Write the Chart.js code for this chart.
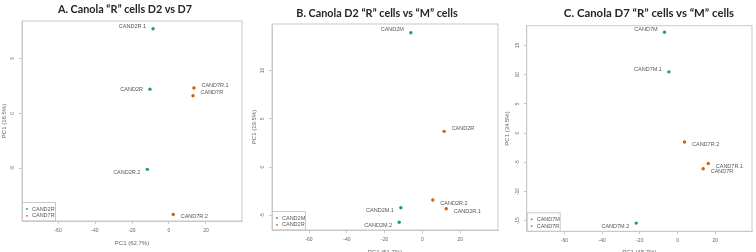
<!DOCTYPE html>
<html>
<head>
<meta charset="utf-8">
<script src="https://cdn.jsdelivr.net/npm/chart.js@4.4.1/dist/chart.umd.min.js"></script>
<style>
  body { margin: 0; background: #fff; }
  #wrap { position: relative; width: 756px; height: 252px; overflow: hidden; background: #fff; }
  .panel { position: absolute; top: 0; width: 252px; height: 252px; }
  .panel canvas { position: absolute; left: 0; top: 0; }
  .ttl {
    position: absolute; white-space: nowrap; transform: translate(-50%, -50%);
    font-family: Lato, "Noto Sans", sans-serif; font-weight: 700; font-size: 10.8px; color: #262626;
  }
</style>
</head>
<body>
<div id="wrap">
  <div class="panel" style="left:0px"><canvas id="chartA" width="252" height="252"></canvas></div>
  <div class="panel" style="left:252px"><canvas id="chartB" width="252" height="252"></canvas></div>
  <div class="panel" style="left:504px"><canvas id="chartC" width="252" height="252"></canvas></div>
  <div class="ttl" style="left:125px;top:8px">A. Canola “R” cells D2 vs D7</div>
  <div class="ttl" style="left:377px;top:12px">B. Canola D2 “R” cells vs “M” cells</div>
  <div class="ttl" style="left:649px;top:12px;font-size:11.4px">C. Canola D7 “R” cells vs “M” cells</div>
</div>
<script>
// shared
const xTicks = [-60, -40, -20, 0, 20];
const colors = ["#1b9e77", "#d95f02"];

// A. D2 vs D7
const aGroups = ["CAND2R", "CAND7R"];
const aNames2R = ["CAND2R.1", "CAND2R", "CAND2R.2"];
const aX2R = [-8.6, -10.3, -11.7];
const aY2R = [7.7, 2.2, -5.1];
const aNames7R = ["CAND7R.1", "CAND7R", "CAND7R.2"];
const aX7R = [13.5, 13.0, 2.3];
const aY7R = [2.3, 1.6, -9.2];
const aYTicks = [-5, 0, 5];

// B. D2 R vs M
const bGroups = ["CAND2M", "CAND2R"];
const bNames2M = ["CAND2M", "CAND2M.1", "CAND2M.2"];
const bX2M = [-6.1, -11.4, -12.3];
const bY2M = [13.9, -4.2, -5.7];
const bNames2R = ["CAND2R", "CAND2R.1", "CAND2R.2"];
const bX2R = [11.5, 12.6, 5.5];
const bY2R = [3.7, -4.3, -3.4];
const bYTicks = [-5, 0, 5, 10];

// C. D7 R vs M
const cGroups = ["CAND7M", "CAND7R"];
const cNames7M = ["CAND7M", "CAND7M.1", "CAND7M.2"];
const cX7M = [-6.9, -4.6, -21.9];
const cY7M = [17.3, 10.5, -15.4];
const cNames7R = ["CAND7R", "CAND7R.1", "CAND7R.2"];
const cX7R = [13.6, 16.3, 3.7];
const cY7R = [-6.1, -5.2, -1.5];
const cYTicks = [-15, -10, -5, 0, 5, 10, 15];

// label placement: side and vertical nudge (px)
const labelPlace = {
  "A:CAND2R.1": ["l", -2], "A:CAND2R": ["l", 0], "A:CAND2R.2": ["l", 3],
  "A:CAND7R.1": ["r", -3], "A:CAND7R": ["r", -3], "A:CAND7R.2": ["r", 2.5],
  "B:CAND2M": ["l", -3], "B:CAND2M.1": ["l", 3], "B:CAND2M.2": ["l", 3],
  "B:CAND2R": ["r", -3], "B:CAND2R.1": ["r", 3], "B:CAND2R.2": ["r", 3],
  "C:CAND7M": ["l", -3], "C:CAND7M.1": ["l", -2], "C:CAND7M.2": ["l", 3],
  "C:CAND7R": ["r", 3], "C:CAND7R.1": ["r", 3], "C:CAND7R.2": ["r", 3],
};

Chart.defaults.font.family = "'Liberation Sans', Arial, sans-serif";
Chart.defaults.color = "#666";

const frameColor = "#c9c9c9";

const rPlotPlugin = {
  id: "rPlot",
  afterDraw(chart) {
    const { ctx, chartArea: a, scales } = chart;
    const key = chart.options.plugins.rPlot.key;
    ctx.save();
    // plot box
    ctx.strokeStyle = frameColor;
    ctx.lineWidth = 1;
    ctx.strokeRect(a.left, a.top, a.right - a.left, a.bottom - a.top);

    // rotated y tick labels, R style
    ctx.fillStyle = "#666";
    ctx.font = "5px 'Liberation Sans', Arial, sans-serif";
    ctx.textAlign = "center";
    ctx.textBaseline = "middle";
    scales.y.ticks.forEach(t => {
      const py = scales.y.getPixelForValue(t.value);
      ctx.save();
      ctx.translate(a.left - 9, py);
      ctx.rotate(-Math.PI / 2);
      ctx.fillText(String(t.value), 0, 0);
      ctx.restore();
    });

    // point labels
    ctx.fillStyle = "#555";
    ctx.font = "5.5px 'Liberation Sans', Arial, sans-serif";
    chart.data.datasets.forEach((ds, di) => {
      const meta = chart.getDatasetMeta(di);
      meta.data.forEach((pt, i) => {
        const name = ds.data[i].name;
        const [side, dy] = labelPlace[key + ":" + name] || ["r", 0];
        ctx.textAlign = side === "l" ? "right" : "left";
        ctx.fillText(name, pt.x + (side === "l" ? -7 : 7.5), pt.y + dy);
      });
    });

    // legend box, bottom left inside
    const bw = 33, bh = 18.5;
    const bx = a.left + 0.5, by = a.bottom - bh;
    ctx.strokeStyle = frameColor;
    ctx.strokeRect(bx, by, bw, bh);
    ctx.textAlign = "left";
    ctx.font = "5.5px 'Liberation Sans', Arial, sans-serif";
    chart.data.datasets.forEach((ds, di) => {
      const ly = by + 6.5 + di * 6.8;
      ctx.fillStyle = ds.backgroundColor;
      ctx.beginPath();
      ctx.arc(bx + 4.5, ly, 0.9, 0, Math.PI * 2);
      ctx.fill();
      ctx.fillStyle = "#555";
      ctx.fillText(ds.label, bx + 9.5, ly);
    });
    ctx.restore();
  }
};

function makePanel(canvasId, key, groups, names, xs, ys, yTicks, area, xRange, yRange, xTitle, yTitle, xTitlePad, yTitlePad) {
  const datasets = groups.map((g, gi) => ({
    label: g,
    data: xs[gi].map((x, i) => ({ x, y: ys[gi][i], name: names[gi][i] })),
    backgroundColor: colors[gi],
    borderColor: colors[gi],
    pointRadius: 1.7,
    pointHoverRadius: 1.7,
    borderWidth: 0,
  }));
  new Chart(document.getElementById(canvasId), {
    type: "scatter",
    data: { datasets },
    options: {
      responsive: false,
      animation: false,
      events: [],
      layout: { padding: { top: area.t, right: 252 - area.r, left: 0, bottom: 0 } },
      plugins: { legend: { display: false }, tooltip: { enabled: false }, rPlot: { key } },
      scales: {
        x: {
          type: "linear",
          min: xRange[0], max: xRange[1],
          afterBuildTicks(s) { s.ticks = xTicks.map(v => ({ value: v })); },
          afterFit(s) { s.height = 252 - area.b; },
          grid: { drawOnChartArea: false, drawTicks: true, tickLength: 3, color: frameColor },
          border: { display: true, color: frameColor },
          ticks: { font: { size: 5 }, color: "#666", padding: 3.5, maxRotation: 0 },
          title: { display: true, text: xTitle, font: { size: 6 }, color: "#666", padding: { top: 0, bottom: xTitlePad } },
        },
        y: {
          type: "linear",
          min: yRange[0], max: yRange[1],
          afterBuildTicks(s) { s.ticks = yTicks.map(v => ({ value: v })); },
          afterFit(s) { s.width = area.l; },
          grid: { drawOnChartArea: false, drawTicks: true, tickLength: 3, color: frameColor },
          border: { display: true, color: frameColor },
          ticks: { display: false },
          title: { display: true, text: yTitle, font: { size: 6 }, color: "#666", padding: { top: yTitlePad, bottom: 0 } },
        },
      },
    },
    plugins: [rPlotPlugin],
  });
}

makePanel("chartA", "A", aGroups, [aNames2R, aNames7R], [aX2R, aX7R], [aY2R, aY7R], aYTicks,
  { l: 22, t: 21, r: 242, b: 221 }, [-79.5, 39.5], [-9.8, 8.4], "PC1 (62.7%)", "PC1 (18.5%)", 5, 0.5);
makePanel("chartB", "B", bGroups, [bNames2M, bNames2R], [bX2M, bX2R], [bY2M, bY2R], bYTicks,
  { l: 20, t: 24, r: 246, b: 230 }, [-79.6, 40], [-6.5, 14.8], "PC1 (51.7%)", "PC1 (19.5%)", -3.5, -1);
makePanel("chartC", "C", cGroups, [cNames7M, cNames7R], [cX7M, cX7R], [cY7M, cY7R], cYTicks,
  { l: 22.7, t: 25.7, r: 248, b: 231.3 }, [-80, 39.5], [-16.8, 18.4], "PC1 (48.7%)", "PC1 (34.5%)", -3.5, 0);
</script>
</body>
</html>
